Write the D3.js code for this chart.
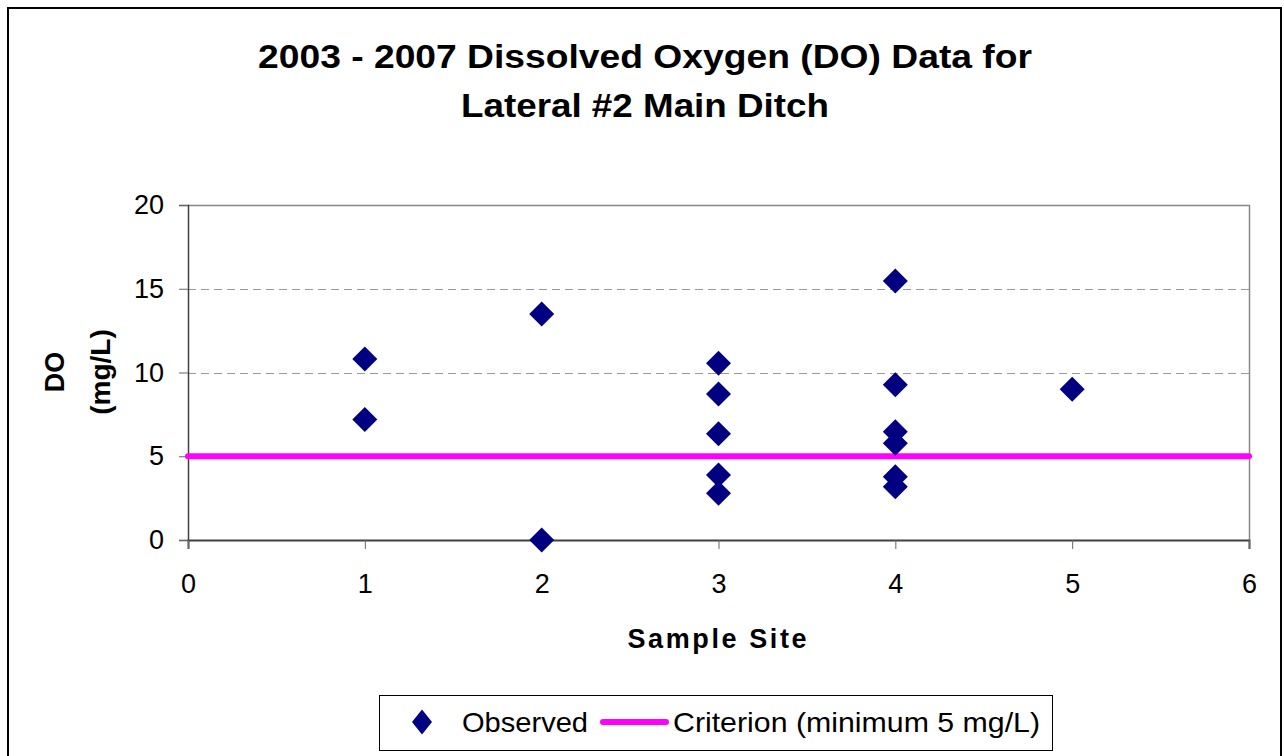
<!DOCTYPE html>
<html>
<head>
<meta charset="utf-8">
<script src="https://cdn.jsdelivr.net/npm/d3@7"></script>
<style>
  html, body { margin: 0; padding: 0; background: #fff; }
  svg { display: block; font-family: "Liberation Sans", Arial, sans-serif; }
</style>
</head>
<body>
<svg id="chart" width="1284" height="756"></svg>
<script>
// ---- data ----
const sites = [1, 1, 2, 2, 3, 3, 3, 3, 3, 4, 4, 4, 4, 4, 4, 5];
const doValues = [10.8, 7.2, 13.5, 0.0, 10.55, 8.72, 6.35, 3.88, 2.79, 15.46, 9.27, 6.47, 5.77, 3.78, 3.18, 9.0];
const criterionValue = 5;
const xTicks = [0, 1, 2, 3, 4, 5, 6];
const yTicks = [0, 5, 10, 15, 20];
const titleLines = ["2003 - 2007 Dissolved Oxygen (DO) Data for", "Lateral #2 Main Ditch"];
const legendLabels = ["Observed", "Criterion (minimum 5 mg/L)"];

const svg = d3.select("#chart");
svg.append("rect").attr("width", 1284).attr("height", 756).attr("fill", "#fff");
// outer chart border
svg.append("rect").attr("x", 8).attr("y", 8).attr("width", 1273).attr("height", 760)
  .attr("fill", "none").attr("stroke", "#000").attr("stroke-width", 2);

const x = d3.scaleLinear().domain([0, 6]).range([188, 1249]);
const y = d3.scaleLinear().domain([0, 20]).range([540, 205]);

// gridlines
svg.append("g").selectAll("line").data(yTicks.filter(d => d > 0 && d < 20)).join("line")
  .attr("x1", x(0)).attr("x2", x(6))
  .attr("y1", d => Math.round(y(d)) + 0.5).attr("y2", d => Math.round(y(d)) + 0.5)
  .attr("stroke", "#999").attr("stroke-width", 1).attr("stroke-dasharray", "8,5");

// plot border top/right
svg.append("path")
  .attr("d", `M${x(0)},${y(20)+0.5}H${x(6)+0.5}V${y(0)}`)
  .attr("fill", "none").attr("stroke", "#888").attr("stroke-width", 1.5);

// y axis
const yAxis = d3.axisLeft(y).tickValues(yTicks).tickSize(9).tickPadding(15).tickFormat(d3.format("d"));
const gy = svg.append("g").attr("transform", `translate(${x(0)},0)`).call(yAxis);
gy.select(".domain").attr("stroke", "#404040").attr("stroke-width", 1.5);
gy.selectAll(".tick line").attr("stroke", "#666");
gy.selectAll(".tick text").attr("font-size", 27).attr("fill", "#000").attr("font-family", "Liberation Sans, Arial, sans-serif");

// x axis
const xAxis = d3.axisBottom(x).tickValues(xTicks).tickSize(9).tickPadding(25).tickFormat(d3.format("d"));
const gx = svg.append("g").attr("transform", `translate(0,${y(0)})`).call(xAxis);
gx.select(".domain").attr("stroke", "#404040").attr("stroke-width", 2);
gx.selectAll(".tick line").attr("stroke", "#666");
gx.selectAll(".tick text").attr("font-size", 27).attr("fill", "#000").attr("font-family", "Liberation Sans, Arial, sans-serif");

// criterion line
svg.append("line")
  .attr("x1", x(0)).attr("x2", x(6))
  .attr("y1", y(criterionValue)).attr("y2", y(criterionValue))
  .attr("stroke", "#FF00FF").attr("stroke-width", 6).attr("stroke-linecap", "round");

// points
function diamondPath(hw, hh) { return `M0,${-hh}L${hw},0L0,${hh}L${-hw},0Z`; }
svg.append("g").selectAll("path").data(sites.map((s, i) => ({ s, v: doValues[i] }))).join("path")
  .attr("d", diamondPath(12.5, 12.5))
  .attr("transform", d => `translate(${x(d.s)},${y(d.v)})`)
  .attr("fill", "#000080");

// title
svg.append("g").selectAll("text").data(titleLines).join("text")
  .attr("x", 645).attr("y", (d, i) => 68 + i * 49)
  .attr("text-anchor", "middle").attr("font-size", 34).attr("font-weight", "bold")
  .attr("textLength", (d, i) => i === 0 ? 774 : 368).attr("lengthAdjust", "spacingAndGlyphs")
  .text(d => d);

// axis titles
svg.append("text").attr("x", 717).attr("y", 648).attr("text-anchor", "middle")
  .attr("font-size", 27).attr("font-weight", "bold")
  .attr("textLength", 179).attr("lengthAdjust", "spacing").text("Sample Site");
svg.append("text").attr("transform", "translate(64,372) rotate(-90)").attr("text-anchor", "middle")
  .attr("font-size", 27).attr("font-weight", "bold").text("DO");
svg.append("text").attr("transform", "translate(110,372) rotate(-90)").attr("text-anchor", "middle")
  .attr("font-size", 28).attr("font-weight", "bold").text("(mg/L)");

// legend
const lg = svg.append("g");
lg.append("rect").attr("x", 379.5).attr("y", 695.5).attr("width", 673).attr("height", 55)
  .attr("fill", "#fff").attr("stroke", "#000").attr("stroke-width", 1);
lg.append("path").attr("d", diamondPath(10, 12.5)).attr("transform", "translate(422,722)").attr("fill", "#000080");
lg.append("text").attr("x", 462).attr("y", 732).attr("font-size", 28)
  .attr("textLength", 126).attr("lengthAdjust", "spacingAndGlyphs").text(legendLabels[0]);
lg.append("line").attr("x1", 603).attr("x2", 666).attr("y1", 722).attr("y2", 722)
  .attr("stroke", "#FF00FF").attr("stroke-width", 6).attr("stroke-linecap", "round");
lg.append("text").attr("x", 673).attr("y", 732).attr("font-size", 28)
  .attr("textLength", 367).attr("lengthAdjust", "spacingAndGlyphs").text(legendLabels[1]);
</script>
</body>
</html>
